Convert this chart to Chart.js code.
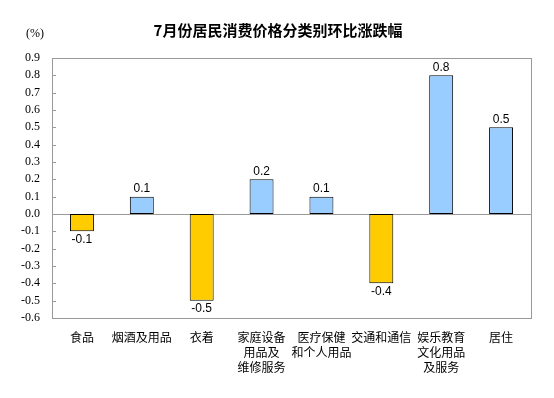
<!DOCTYPE html>
<html><head><meta charset="utf-8">
<script src="https://cdn.jsdelivr.net/npm/chart.js@4/dist/chart.umd.min.js"></script>
<style>html,body{margin:0;padding:0;background:#fff}#wrap{width:554px;height:398px}</style>
</head><body><div id="wrap"><canvas id="c" width="554" height="398"></canvas></div>
<script>
const TITLE = "7月份居民消费价格分类别环比涨跌幅";
const UNIT = "(%)";
const categories = [["食品"],["烟酒及用品"],["衣着"],["家庭设备","用品及","维修服务"],["医疗保健","和个人用品"],["交通和通信"],["娱乐教育","文化用品","及服务"],["居住"]];
const values = [-0.1, 0.1, -0.5, 0.2, 0.1, -0.4, 0.8, 0.5];
const yMin = -0.6, yMax = 0.9, yStep = 0.1;
const POS = "#99CCFF", NEG = "#FFCC00";

const deco = {
  id: "deco",
  beforeDatasetsDraw(chart) {
    const ctx = chart.ctx, a = chart.chartArea, y = chart.scales.y;
    ctx.save();
    ctx.strokeStyle = "#999999"; ctx.lineWidth = 1;
    ctx.strokeRect(Math.round(a.left)+0.5, Math.round(a.top)+0.5, Math.round(a.right-a.left), Math.round(a.bottom-a.top));
    y.ticks.forEach(t => {
      const py = Math.round(y.getPixelForValue(t.value)) + 0.5;
      ctx.beginPath(); ctx.moveTo(a.left, py); ctx.lineTo(a.left + 4, py); ctx.stroke();
    });
    const z = Math.round(y.getPixelForValue(0)) + 0.5;
    ctx.beginPath(); ctx.moveTo(a.left, z); ctx.lineTo(a.right, z); ctx.stroke();
    ctx.restore();
  },
  afterDraw(chart) {
    const ctx = chart.ctx;
    ctx.save();
    ctx.fillStyle = "#000";
    ctx.font = "bold 15px 'Noto Sans CJK SC'";
    ctx.textAlign = "center"; ctx.textBaseline = "middle";
    ctx.fillText(TITLE, 278, 30);
    ctx.font = "12px 'Liberation Serif'";
    ctx.fillText(UNIT, 35, 34);
    ctx.font = "12px 'Liberation Sans'";
    const meta = chart.getDatasetMeta(0);
    meta.data.forEach((bar, i) => {
      const v = values[i];
      if (v >= 0) { ctx.textBaseline = "bottom"; ctx.fillText(v.toFixed(1), bar.x, bar.y - 2); }
      else { ctx.textBaseline = "top"; ctx.fillText(v.toFixed(1), bar.x, bar.y + 2); }
    });
    ctx.restore();
  }
};

new Chart(document.getElementById("c"), {
  type: "bar",
  data: {
    labels: categories,
    datasets: [{
      data: values,
      backgroundColor: values.map(v => v >= 0 ? POS : NEG),
      borderColor: "#000", borderWidth: 1, borderSkipped: false,
      barPercentage: 0.4, categoryPercentage: 1
    }]
  },
  options: {
    responsive: false, animation: false, devicePixelRatio: 1,
    layout: { padding: { top: 58, right: 23, left: 0, bottom: 0 } },
    plugins: { legend: { display: false }, tooltip: { enabled: false }, title: { display: false } },
    scales: {
      x: {
        grid: { display: false, drawTicks: false }, border: { display: false },
        ticks: { color: "#000", font: { family: "Noto Sans CJK SC", size: 12, lineHeight: 1.25 }, padding: 12, maxRotation: 0, autoSkip: false },
        afterFit(s) { s.height = 80; }
      },
      y: {
        min: yMin, max: yMax,
        grid: { display: false, drawTicks: false }, border: { display: false },
        ticks: { stepSize: yStep, autoSkip: false, color: "#000", font: { family: "Liberation Serif", size: 12 }, padding: 12,
          callback: v => (Math.round(v * 10) / 10).toFixed(1) },
        afterFit(s) { s.width = 52; }
      }
    }
  },
  plugins: [deco]
});
</script></body></html>
